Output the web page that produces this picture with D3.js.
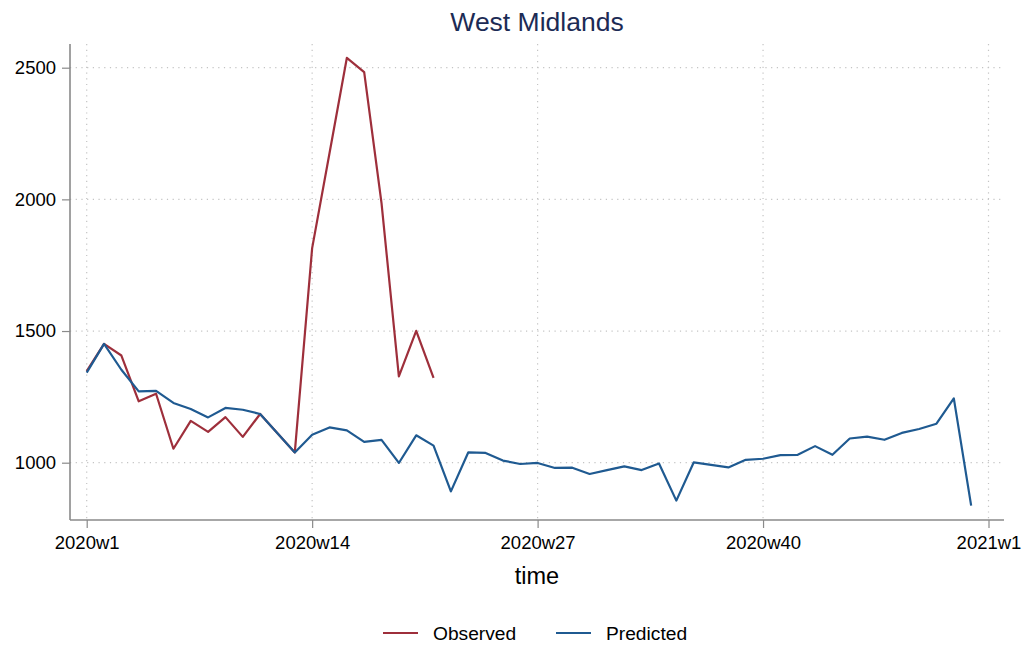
<!DOCTYPE html>
<html>
<head>
<meta charset="utf-8">
<script src="https://cdn.jsdelivr.net/npm/d3@7"></script>
<style>
  html, body { margin: 0; padding: 0; background: #ffffff; }
  svg { display: block; font-family: "Liberation Sans", Arial, Helvetica, sans-serif; }
</style>
</head>
<body>
<svg id="chart" width="1031" height="648"></svg>
<script>
// ---- data ----
const weekIndex = d3.range(0, 52);               // 0 = 2020w1 ... 51 = 2020w52
const observed = [1348, 1451, 1407, 1233, 1262, 1053, 1159, 1117, 1173, 1098, 1185, 1112, 1039,
                  1815, 2175, 2537, 2483, 1986, 1328, 1501, 1322];
const predicted = [1342, 1451, 1353, 1271, 1273, 1227, 1204, 1172, 1208, 1201, 1185, 1112, 1039,
                   1106, 1134, 1123, 1079, 1087, 999, 1104, 1065, 891, 1039, 1037, 1008, 995, 999,
                   980, 981, 957, 972, 986, 972, 997, 856, 1001, 992, 982, 1011, 1015,
                   1029, 1030, 1063, 1030, 1092, 1099, 1087, 1113, 1128, 1148, 1244, 837];
const xTickValues = [0, 13, 26, 39, 52];
const xTickLabels = ["2020w1", "2020w14", "2020w27", "2020w40", "2021w1"];
const yTickValues = [1000, 1500, 2000, 2500];
const seriesNames = ["Observed", "Predicted"];
const seriesColors = ["#9e2f3b", "#1f5a91"];

// ---- layout ----
const svg = d3.select("#chart");
const plotLeft = 70, plotRight = 1004, plotTop = 44, plotBottom = 520;

const x = d3.scaleLinear().domain([0, 52]).range([86.7, 988.5]);
const y = d3.scaleLinear().domain([782.4, 2590]).range([plotBottom, plotTop]);

const gridColor = "#c4c4c4";
const axisColor = "#8a8a8a";

// grid lines
svg.append("g").selectAll("line").data(yTickValues).join("line")
  .attr("x1", plotLeft).attr("x2", plotRight)
  .attr("y1", d => y(d)).attr("y2", d => y(d))
  .attr("stroke", gridColor).attr("stroke-width", 1.2)
  .attr("stroke-dasharray", "1.2,4.5");
svg.append("g").selectAll("line").data(xTickValues).join("line")
  .attr("x1", d => x(d)).attr("x2", d => x(d))
  .attr("y1", plotTop).attr("y2", plotBottom)
  .attr("stroke", gridColor).attr("stroke-width", 1.2)
  .attr("stroke-dasharray", "1.2,4.5");

// y axis
const yAxis = d3.axisLeft(y).tickValues(yTickValues).tickSize(8).tickPadding(6).tickFormat(d3.format("d"));
const gy = svg.append("g").attr("transform", `translate(${plotLeft},0)`).call(yAxis);
gy.select(".domain").attr("d", `M0,${plotTop}V${plotBottom}`);

// x axis
const xAxis = d3.axisBottom(x).tickValues(xTickValues).tickSize(8).tickPadding(8)
  .tickFormat((d, i) => xTickLabels[i]);
const gx = svg.append("g").attr("transform", `translate(0,${plotBottom})`).call(xAxis);
gx.select(".domain").attr("d", `M${plotLeft},0H${plotRight}`);

[gx, gy].forEach(g => {
  g.select(".domain").attr("stroke", axisColor).attr("stroke-width", 1.6);
  g.selectAll(".tick line").attr("stroke", axisColor).attr("stroke-width", 1.2);
  g.selectAll(".tick text").attr("fill", "#000").style("font-size", "18.5px")
    .style("font-family", '"Liberation Sans", Arial, sans-serif');
});

// lines
const line = d3.line().x((d, i) => x(weekIndex[i])).y(d => y(d));
svg.append("path").datum(observed).attr("d", line)
  .attr("fill", "none").attr("stroke", seriesColors[0]).attr("stroke-width", 2.2)
  .attr("stroke-linejoin", "round");
svg.append("path").datum(predicted).attr("d", line)
  .attr("fill", "none").attr("stroke", seriesColors[1]).attr("stroke-width", 2.2)
  .attr("stroke-linejoin", "round");

// title
svg.append("text").attr("x", 537).attr("y", 31).attr("text-anchor", "middle")
  .attr("fill", "#1c2b55").style("font-size", "26.5px").text("West Midlands");

// x-axis title
svg.append("text").attr("x", 537).attr("y", 584).attr("text-anchor", "middle")
  .attr("fill", "#000").style("font-size", "23.5px").text("time");

// legend
const legendX = [383, 556];
seriesNames.forEach((name, i) => {
  svg.append("line").attr("x1", legendX[i]).attr("x2", legendX[i] + 35)
    .attr("y1", 633).attr("y2", 633)
    .attr("stroke", seriesColors[i]).attr("stroke-width", 2.2);
  svg.append("text").attr("x", legendX[i] + 50).attr("y", 640)
    .attr("fill", "#000").style("font-size", "19.2px").text(name);
});
</script>
</body>
</html>
